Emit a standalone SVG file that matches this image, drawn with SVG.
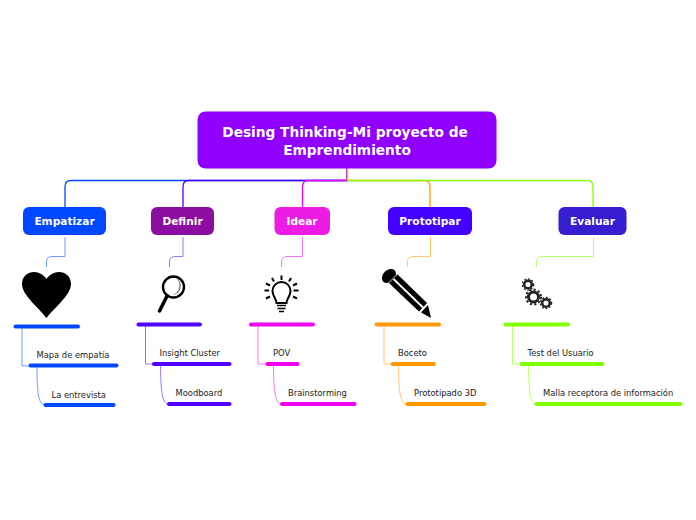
<svg xmlns="http://www.w3.org/2000/svg" width="696" height="520" viewBox="0 0 696 520">
<style>
text{font-family:"DejaVu Sans",sans-serif}
.t{font-size:10.6px;font-weight:700;fill:#fff;text-anchor:middle}
.r{font-size:13.7px;font-weight:700;fill:#fff;text-anchor:middle}
.s{font-size:8.35px;fill:#222}
.c{fill:none;stroke-width:1.3}
.l{fill:none;stroke-width:1;opacity:.55}
.b{stroke-width:4;stroke-linecap:round;fill:none}
</style>
<g id="connectors">
<path class="c" stroke="#0048ff" d="M347 168V180.500H71Q65 180.500 65 186.500V207"/>
<path class="c" stroke="#5000ff" d="M347 168V180.500H189Q183 180.500 183 186.500V207"/>
<path class="c" stroke="#f000f0" d="M347 168V180.500H309Q302.500 180.500 302.500 186.500V207"/>
<path class="c" stroke="#ff9900" d="M347.500 168V180.500H424Q430 180.500 430 186.500V207"/>
<path class="c" stroke="#80ff00" d="M347.500 168V180.500H587Q593 180.500 593 186.500V207"/>
<g class="l">
<path stroke="#0048ff" d="M65 237V256.500H52Q46.500 256.500 46.500 262V267M22 327V366H30M37 366C37 390 38 405 45 405"/>
<path stroke="#5000ff" d="M183 237V256.500H175Q169.500 256.500 169.500 262V267M145.500 325V364H153M160.500 364C160.500 388 162 404 168 404"/>
<path stroke="#f000f0" d="M302.500 237V256.500H287Q281.500 256.500 281.500 262V267M258 325V364H266M273.500 364C273.500 388 275 404 281 404"/>
<path stroke="#ff9900" d="M430.500 237V256.500H413Q407.500 256.500 407.500 262V267M384 325V364H391M398.500 364C398.500 388 400 404 406 404"/>
<path stroke="#80ff00" d="M593.500 237V256.500H542Q536.500 256.500 536.500 262V267M512.500 325V364H520M528.500 364C528.500 388 530 404 536 404"/>
</g>
</g>
<g id="root"><rect x="197.500" y="111.500" width="299" height="57" rx="8" fill="#9000ff"/><text class="r" x="345" y="137">Desing Thinking-Mi proyecto de</text><text class="r" x="347" y="154.500">Emprendimiento</text></g>
<g id="empatizar"><rect x="23" y="207" width="83" height="28" rx="6" fill="#0048ff"/><text class="t" x="64.500" y="225">Empatizar</text></g>
<g id="definir"><rect x="151" y="207" width="63" height="28" rx="6" fill="#8c0ea0"/><text class="t" x="182.500" y="225">Definir</text></g>
<g id="idear"><rect x="274.500" y="207" width="55.500" height="28" rx="6" fill="#ec1ce4"/><text class="t" x="302" y="225">Idear</text></g>
<g id="prototipar"><rect x="388" y="207" width="84" height="28" rx="6" fill="#4400ff"/><text class="t" x="430" y="225">Prototipar</text></g>
<g id="evaluar"><rect x="558.500" y="207" width="68" height="28" rx="6" fill="#351fd0"/><text class="t" x="592.500" y="225">Evaluar</text></g>
<g id="heart"><path d="M46.500 318C38 307 22 295 22 284C22 276 28 272 34 272C39 272 44 275 46.500 279C49 275 54 272 59 272C65 272 71 276 71 284C71 295 55 307 46.500 318Z"/><path class="b" stroke="#0048ff" d="M15.500 326.500H78"/></g>
<g id="magnifier"><circle cx="173.500" cy="287" r="10.500" fill="#fff" stroke="#000" stroke-width="2.400"/><path d="M176 278A9 9 0 0 1 172 295A10 10 0 0 0 176 278Z" fill="#888"/><path d="M167 296L159.500 311" stroke="#000" stroke-width="3.500" stroke-linecap="round"/><path class="b" stroke="#5000ff" d="M138.500 324.500H200"/></g>
<g id="bulb"><path d="M276.500 303C276 298 272.500 296 272.500 291A9 9 0 0 1 290.500 291C290.500 296 287 298 286.500 303Z" fill="none" stroke="#000" stroke-width="2"/><path d="M277 305.500H286M277.500 308.500H285.500M279 311.500H284" stroke="#000" stroke-width="1.600"/><path d="M281.500 275.500V280M272 278L274 281.500M291 278L289 281.500M266 283.500L270 285.500M297 283.500L293 285.500M264.500 290.500H269M293.500 290.500H298.500M266 298.500L270 296.500M297 298.500L293 296.500" stroke="#000" stroke-width="2"/><path class="b" stroke="#f000f0" d="M251 324.500H313"/></g>
<g id="pencil"><ellipse cx="389" cy="276" rx="8" ry="6" transform="rotate(-45 389 276)"/><path d="M397.500 274L427.500 303L419 312L388.500 283Z" stroke="#fff" stroke-width=".8"/><path d="M393.500 279L423 307.500" stroke="#fff" stroke-width="1.800"/><path d="M428 305L421 312.500L431 318Z"/><path class="b" stroke="#ff9900" d="M376.500 324.500H439"/></g>
<g id="gears" fill="none" stroke="#222">
<circle cx="528" cy="284.500" r="3.800" stroke-width="2.500"/><circle cx="528" cy="284.500" r="5.500" stroke-width="1.500" stroke-dasharray="1.800 1.800"/>
<circle cx="533.500" cy="297" r="5" stroke-width="3"/><circle cx="533.500" cy="297" r="7.500" stroke-width="2" stroke-dasharray="2.200 2.200"/>
<circle cx="546" cy="303" r="3.800" stroke-width="2.500"/><circle cx="546" cy="303" r="5.500" stroke-width="1.500" stroke-dasharray="1.800 1.800"/>
<path class="b" stroke="#80ff00" d="M505.500 324.500H568"/></g>
<g id="n1"><text class="s" x="36.500" y="358">Mapa de empatía</text><path class="b" stroke="#0048ff" d="M30.500 365.500H116.500"/></g>
<g id="n2"><text class="s" x="51.500" y="398">La entrevista</text><path class="b" stroke="#0048ff" d="M45.500 405H113.500"/></g>
<g id="n3"><text class="s" x="159.500" y="356">Insight Cluster</text><path class="b" stroke="#5000ff" d="M154 364H229.500"/></g>
<g id="n4"><text class="s" x="175.500" y="396">Moodboard</text><path class="b" stroke="#5000ff" d="M169 404H229.500"/></g>
<g id="n5"><text class="s" x="273" y="356">POV</text><path class="b" stroke="#f000f0" d="M267.500 364H297.500"/></g>
<g id="n6"><text class="s" x="288" y="396">Brainstorming</text><path class="b" stroke="#f000f0" d="M282 404H354.500"/></g>
<g id="n7"><text class="s" x="398" y="356">Boceto</text><path class="b" stroke="#ff9900" d="M392.500 364H434"/></g>
<g id="n8"><text class="s" x="414" y="396">Prototipado 3D</text><path class="b" stroke="#ff9900" d="M407.500 404H484.500"/></g>
<g id="n9"><text class="s" x="527.500" y="356">Test del Usuario</text><path class="b" stroke="#80ff00" d="M521.500 364H602.500"/></g>
<g id="n10"><text class="s" x="543" y="396">Malla receptora de información</text><path class="b" stroke="#80ff00" d="M536.500 404H680.500"/></g>
</svg>
